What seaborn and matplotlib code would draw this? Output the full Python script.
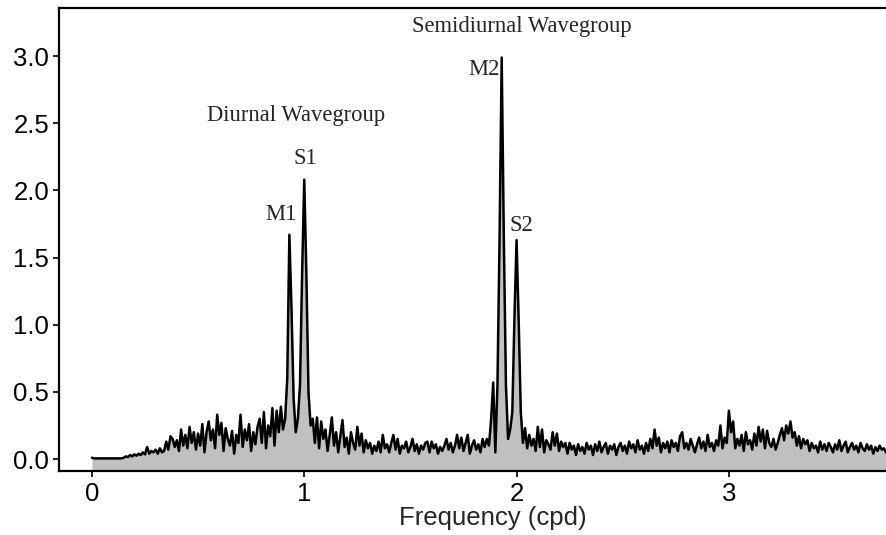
import numpy as np
import pandas as pd
import matplotlib
matplotlib.use("Agg")
import matplotlib.pyplot as plt
import seaborn as sns

sns.set_style("ticks")
plt.rcParams['font.family'] = ['Liberation Sans', 'DejaVu Sans']

# --- Data: spectral amplitude, one value every 0.01 cpd ---
freq_step = 0.01
power = [
    0.01, 0.005, 0.005, 0.005, 0.005, 0.005, 0.005, 0.005, 0.005, 0.005,   # 0.0
    0.005, 0.005, 0.005, 0.005, 0.005, 0.01, 0.02, 0.015, 0.03, 0.02,     # 0.1
    0.035, 0.025, 0.04, 0.03, 0.05, 0.035, 0.09, 0.04, 0.06, 0.05,        # 0.2
    0.07, 0.04, 0.08, 0.05, 0.06, 0.13, 0.07, 0.17, 0.15, 0.09,           # 0.3
    0.14, 0.06, 0.22, 0.1, 0.18, 0.08, 0.24, 0.12, 0.2, 0.07,             # 0.4
    0.19, 0.1, 0.26, 0.05, 0.2, 0.28, 0.14, 0.22, 0.08, 0.33,             # 0.5
    0.18, 0.27, 0.06, 0.23, 0.15, 0.1, 0.21, 0.04, 0.18, 0.12,            # 0.6
    0.33, 0.09, 0.22, 0.14, 0.26, 0.06, 0.2, 0.11, 0.24, 0.3,             # 0.7
    0.12, 0.35, 0.08, 0.25, 0.17, 0.38, 0.1, 0.36, 0.2, 0.39,             # 0.8
    0.22, 0.3, 0.6, 1.67, 1.12, 0.45, 0.2, 0.3, 0.55, 1.38,               # 0.9
    2.08, 1.38, 0.5, 0.25, 0.3, 0.12, 0.31, 0.08, 0.28, 0.15,             # 1.0
    0.22, 0.06, 0.18, 0.31, 0.1, 0.2, 0.05, 0.17, 0.29, 0.09,             # 1.1
    0.16, 0.04, 0.2, 0.12, 0.07, 0.24, 0.1, 0.19, 0.05, 0.14,             # 1.2
    0.08, 0.12, 0.04, 0.1, 0.06, 0.13, 0.05, 0.18, 0.08, 0.11,            # 1.3
    0.05, 0.12, 0.18, 0.07, 0.15, 0.04, 0.1, 0.08, 0.13, 0.05,            # 1.4
    0.09, 0.15, 0.06, 0.11, 0.04, 0.1, 0.07, 0.12, 0.13, 0.05,            # 1.5
    0.13, 0.08, 0.11, 0.04, 0.09, 0.06, 0.1, 0.15, 0.07, 0.12,            # 1.6
    0.05, 0.1, 0.18, 0.08, 0.16, 0.06, 0.12, 0.18, 0.04, 0.1,             # 1.7
    0.14, 0.07, 0.11, 0.05, 0.15, 0.09, 0.15, 0.1, 0.29, 0.57,            # 1.8
    0.05, 0.55, 1.65, 2.99, 1.65, 0.55, 0.15, 0.22, 0.35, 1.05,           # 1.9
    1.63, 1.03, 0.35, 0.12, 0.23, 0.08, 0.18, 0.1, 0.15, 0.06,            # 2.0
    0.24, 0.09, 0.22, 0.05, 0.14, 0.11, 0.07, 0.2, 0.1, 0.19,             # 2.1
    0.06, 0.13, 0.09, 0.12, 0.04, 0.12, 0.07, 0.1, 0.03, 0.11,            # 2.2
    0.06, 0.09, 0.04, 0.12, 0.07, 0.1, 0.03, 0.11, 0.06, 0.13,            # 2.3
    0.05, 0.09, 0.12, 0.04, 0.1, 0.07, 0.11, 0.03, 0.09, 0.12,            # 2.4
    0.06, 0.1, 0.04, 0.13, 0.08, 0.11, 0.05, 0.14, 0.07, 0.1,             # 2.5
    0.04, 0.12, 0.06, 0.15, 0.08, 0.22, 0.1, 0.16, 0.05, 0.12,            # 2.6
    0.08, 0.13, 0.05, 0.14, 0.09, 0.12, 0.06, 0.17, 0.2, 0.08,            # 2.7
    0.12, 0.07, 0.15, 0.1, 0.05, 0.11, 0.16, 0.08, 0.13, 0.06,            # 2.8
    0.18, 0.09, 0.12, 0.06, 0.14, 0.1, 0.25, 0.08, 0.16, 0.12,            # 2.9
    0.36, 0.2, 0.28, 0.08, 0.15, 0.1, 0.18, 0.06, 0.2, 0.11,              # 3.0
    0.14, 0.07, 0.19, 0.1, 0.24, 0.13, 0.22, 0.08, 0.21, 0.12,            # 3.1
    0.09, 0.15, 0.07, 0.12, 0.18, 0.23, 0.14, 0.25, 0.19, 0.28,           # 3.2
    0.16, 0.2, 0.1, 0.17, 0.08, 0.15, 0.11, 0.14, 0.06, 0.12,             # 3.3
    0.08, 0.1, 0.05, 0.13, 0.07, 0.11, 0.06, 0.12, 0.09, 0.05,            # 3.4
    0.11, 0.07, 0.14, 0.06, 0.1, 0.13, 0.05, 0.09, 0.12, 0.07,            # 3.5
    0.1, 0.05, 0.12, 0.08, 0.06, 0.11, 0.07, 0.1, 0.04, 0.09,             # 3.6
    0.06, 0.1, 0.07, 0.08, 0.05,                                          # 3.7
]
freq = np.arange(len(power)) * freq_step

# constituent labels
peak_names = ["M1", "S1", "M2", "S2"]
peak_label_x = [0.890, 1.003, 1.846, 2.021]
peak_label_y = [1.824, 2.241, 2.904, 1.742]

group_names = ["Diurnal Wavegroup", "Semidiurnal Wavegroup"]
group_label_x = [0.961, 2.025]
group_label_y = [2.56, 3.217]

x_ticks = [0, 1, 2, 3]
y_ticks = [0.0, 0.5, 1.0, 1.5, 2.0, 2.5, 3.0]

df = pd.DataFrame({'freq': freq, 'power': power})

# --- Plot ---
fig = plt.figure(figsize=(8.86, 5.35), dpi=100)
ax = fig.add_axes([0.0666, 0.1196, 0.9334, 0.8654])

y_bottom, y_top = -0.089, 3.358
ax.fill_between(df['freq'], df['power'], y_bottom, color='#c0c0c0', linewidth=0)
sns.lineplot(data=df, x='freq', y='power', ax=ax, color='black', linewidth=1.8)

ax.set_xlim(-0.155, 3.74)
ax.set_ylim(y_bottom, y_top)
ax.set_xticks(x_ticks)
ax.set_yticks(y_ticks)
ax.set_xticklabels([str(t) for t in x_ticks])
ax.set_yticklabels([f"{t:.1f}" for t in y_ticks])
ax.tick_params(axis='both', labelsize=18.5, colors='black', width=1.2, length=4, direction='out')
ax.tick_params(axis='x', pad=4)
ax.tick_params(axis='y', pad=3)

for side in ['left', 'bottom', 'top']:
    ax.spines[side].set_linewidth(1.6)
    ax.spines[side].set_color('black')
ax.spines['right'].set_visible(False)

ax.set_ylabel('')
ax.set_xlabel('Frequency (cpd)', fontsize=18.5)
ax.xaxis.set_label_coords(0.525, -0.076)

for name, x, y in zip(peak_names, peak_label_x, peak_label_y):
    ax.text(x, y, name, ha='center', va='center', fontsize=16.3,
            family=['Liberation Serif', 'DejaVu Serif'])
for name, x, y in zip(group_names, group_label_x, group_label_y):
    ax.text(x, y, name, ha='center', va='center', fontsize=16.3,
            family=['Liberation Serif', 'DejaVu Serif'])

plt.savefig('out.png', dpi=100)
